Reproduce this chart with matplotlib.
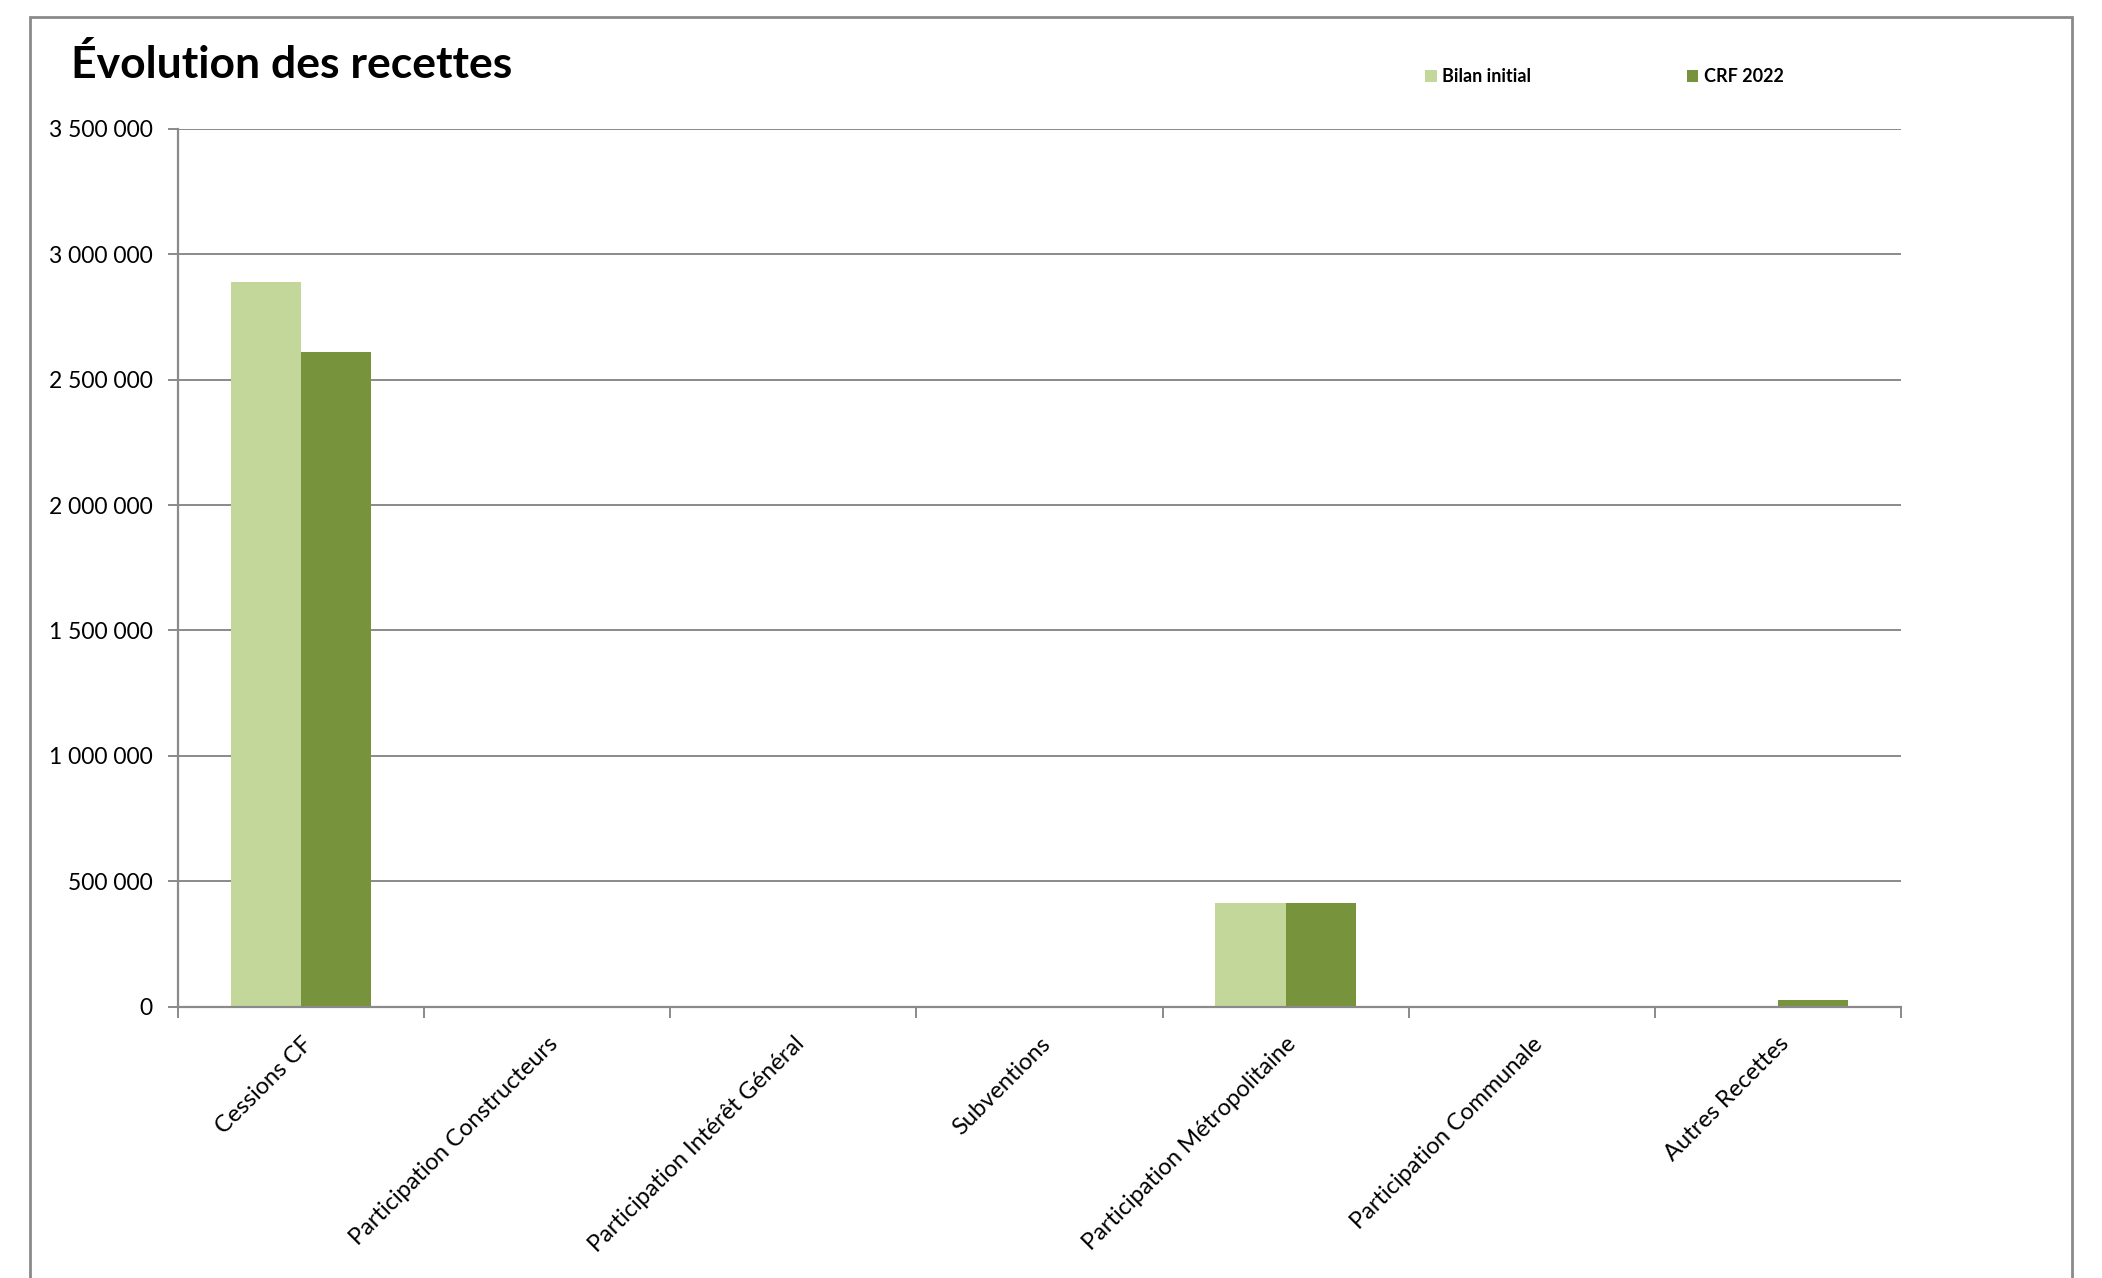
import matplotlib
matplotlib.use("Agg")
import matplotlib.pyplot as plt
from matplotlib.patches import Rectangle
from matplotlib.ticker import FuncFormatter, FixedLocator
import numpy as np

categories = [
    "Cessions CF",
    "Participation Constructeurs",
    "Participation Intérêt Général",
    "Subventions",
    "Participation Métropolitaine",
    "Participation Communale",
    "Autres Recettes",
]
bilan_initial = [2887000, 0, 0, 0, 415000, 0, 0]
crf_2022 = [2609000, 0, 0, 0, 415000, 0, 28000]
series_names = ["Bilan initial", "CRF 2022"]
y_ticks = [0, 500000, 1000000, 1500000, 2000000, 2500000, 3000000, 3500000]

LIGHT = "#c4d79b"
DARK = "#77933c"
GRID = "#8a8a8a"
FONT = ["Lato", "DejaVu Sans"]
plt.rcParams["font.family"] = FONT

W, H = 2102, 1278
fig = plt.figure(figsize=(W / 100, H / 100), dpi=100)
fig.patch.set_facecolor("white")

# chart frame (open at the bottom)
frame = Rectangle((29.5 / W, -0.05), (2072 - 29.5) / W, 1.05 - 17.4 / H,
                  transform=fig.transFigure, fill=False, edgecolor=GRID,
                  linewidth=2, clip_on=False)
fig.patches.append(frame)

left, right, top, zero = 178, 1901, 128.7, 1006.8
ax = fig.add_axes([left / W, 1 - zero / H, (right - left) / W, (zero - top) / H])

x = np.arange(len(categories))
bw = 1 / 3.5
ax.bar(x - bw / 2, bilan_initial, width=bw, color=LIGHT, label=series_names[0], zorder=3)
ax.bar(x + bw / 2, crf_2022, width=bw, color=DARK, label=series_names[1], zorder=3)

ax.set_xlim(-0.5, len(categories) - 0.5)
ax.set_ylim(0, 3500000)

ax.yaxis.set_major_locator(FixedLocator(y_ticks))
ax.yaxis.set_major_formatter(FuncFormatter(lambda v, p: f"{v:,.0f}".replace(",", " ")))
ax.grid(axis="y", color=GRID, linewidth=1.4, zorder=0)
ax.set_axisbelow(True)

for side in ["top", "right"]:
    ax.spines[side].set_visible(False)
for side in ["left", "bottom"]:
    ax.spines[side].set_color(GRID)
    ax.spines[side].set_linewidth(1.6)
ax.spines["bottom"].set_zorder(4)

ax.tick_params(axis="y", direction="out", length=7, width=1.4, color=GRID,
               labelsize=16.5, pad=11, labelcolor="black")

# category boundary ticks, labels centered on categories
ax.set_xticks(np.arange(-0.5, len(categories)), minor=False)
ax.set_xticklabels([])
ax.tick_params(axis="x", which="major", direction="out", length=8, width=1.4, color=GRID)
ax.set_xticks(x, minor=True)
ax.set_xticklabels(categories, minor=True, rotation=45, ha="right",
                   rotation_mode="anchor", fontsize=17)
ax.tick_params(axis="x", which="minor", length=0, pad=19)

fig.text(71 / W, 1 - 78 / H, "Évolution des recettes", fontsize=32,
         fontweight="bold", va="baseline", ha="left")

fig.legend(loc="center left", bbox_to_anchor=(1418 / W, 1 - 77 / H), ncol=2,
           frameon=False, prop={"weight": "bold", "size": 13},
           handlelength=0.65, handleheight=0.65, handletextpad=0.3,
           columnspacing=8.6, borderaxespad=0)

fig.savefig("out.png", dpi=100, facecolor="white")
